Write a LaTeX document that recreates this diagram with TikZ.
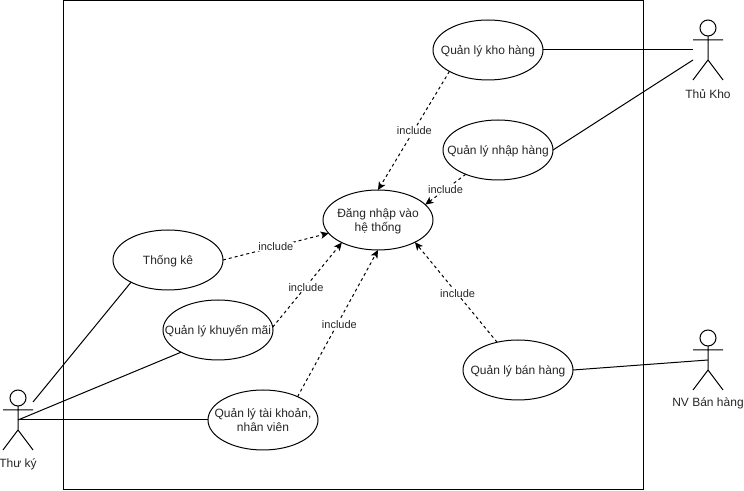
\documentclass[tikz,border=0pt]{standalone}
\usepackage{fontspec}
\setmainfont{Liberation Sans}
\usetikzlibrary{shapes.geometric,arrows.meta}
\newcommand{\uctext}[1]{\makebox[0pt]{\smash{\raisebox{-3.6pt}{\begin{tabular}{@{}c@{}}#1\end{tabular}}}}}
\tikzset{
  x=0.75pt,y=-0.75pt,
  every node/.style={font=\fontsize{9}{10.5}\selectfont,text=black!85},
  usecase/.style={ellipse,draw,fill=white,line width=0.75pt,minimum width=82.5pt,minimum height=45pt,inner sep=0pt,outer sep=0pt},
  assoc/.style={line width=0.75pt},
  incl/.style={line width=0.75pt,dash pattern=on 2.25pt off 2.25pt,-{Stealth[length=6pt,width=5.5pt,inset=1.5pt]}},
  incllabel/.style={font=\fontsize{8.25}{9}\selectfont,fill=white,inner sep=0.6pt},
  actorline/.style={line width=0.75pt},
  actorlabel/.style={inner sep=0pt},
  boundary/.style={line width=0.75pt}
}
\begin{document}
\begin{tikzpicture}
\useasboundingbox (0,0) rectangle (744,491);
\draw[boundary] (63.5,0.5) rectangle (643,490);

\node[usecase] (kho) at (488,50) {\uctext{Quản lý kho hàng}};
\node[usecase] (nhap) at (498,150) {\uctext{Quản lý nhập hàng}};
\node[usecase] (login) at (378,220) {\uctext{Đăng nhập vào\\hệ thống}};
\node[usecase] (tk) at (168,260) {\uctext{Thống kê}};
\node[usecase] (km) at (218,330) {\uctext{Quản lý khuyến mãi}};
\node[usecase] (tknv) at (263,420) {\uctext{Quản lý tài khoản,\\nhân viên}};
\node[usecase] (bh) at (518,370) {\uctext{Quản lý bán hàng}};

% actors
\draw[actorline] (18,398) circle (8);
\draw[actorline] (18,406) -- (18,430) (3,410) -- (33,410) (3,450) -- (18,430) -- (33,450);
\node[actorlabel] (tkylabel) at (18,464) {Thư ký};
\draw[actorline] (708,28) circle (8);
\draw[actorline] (708,36) -- (708,60) (693,40) -- (723,40) (693,80) -- (708,60) -- (723,80);
\node[actorlabel] (tklabel) at (708,94) {Thủ Kho};
\draw[actorline] (708,338) circle (8);
\draw[actorline] (708,346) -- (708,370) (693,350) -- (723,350) (693,390) -- (708,370) -- (723,390);
\node[actorlabel] (nvlabel) at (708,403) {NV Bán hàng};

\coordinate (tkyA) at (33,402);
\coordinate (tkyB) at (18,420);
\coordinate (khoA) at (693,50);
\coordinate (khoB) at (693,60);
\coordinate (nv) at (708,360);

% associations
\draw[assoc] (tkyA) -- (tk.211);
\draw[assoc] (tkyB) -- (km.211);
\draw[assoc] (tkyB) -- (tknv.180);
\draw[assoc] (kho.0) -- (khoA);
\draw[assoc] (nhap.0) -- (khoB);
\draw[assoc] (bh.0) -- (nv);

% includes
\draw[incl] (kho.209) -- node[incllabel,pos=0.5,xshift=0.5pt] (l1) {include} (login.90);
\draw[incl] (nhap.217) -- node[incllabel,pos=0.5] (l2) {include} (login.18);
\draw[incl] (tk.0) -- node[incllabel,pos=0.5] (l3) {include} (login.195);
\draw[incl] (km.3) -- node[incllabel,pos=0.5,xshift=-1pt,yshift=-2pt] (l4) {include} (login.212);
\draw[incl] (tknv.34) -- node[incllabel,pos=0.5,xshift=1.2pt,yshift=-0.7pt] (l5) {include} (login.270);
\draw[incl] (bh.127) -- node[incllabel,pos=0.5,xshift=1.2pt,yshift=-0.7pt] (l6) {include} (login.-31);
\end{tikzpicture}
\end{document}
